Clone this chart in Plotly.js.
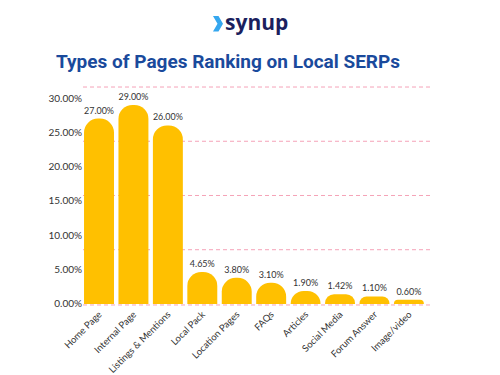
<!DOCTYPE html>
<html><head><meta charset="utf-8">
<script src="https://cdn.plot.ly/plotly-3.0.1.min.js"></script>
<style>html,body{margin:0;padding:0;background:#fff}#chart{width:500px;height:375px}</style>
</head><body><div id="chart"></div>
<script>
const categories = ["Home Page","Internal Page","Listings & Mentions","Local Pack","Location Pages","FAQs","Articles","Social Media","Forum Answer","Image/video"];
const shares = [27.00, 29.00, 26.00, 4.65, 3.80, 3.10, 1.90, 1.42, 1.10, 0.60];
const yTicks = [0, 5, 10, 15, 20, 25, 30];
const gridLevels = [-0.15, 7.9, 15.8, 23.7, 31.6];

const font = "Lato, 'Open Sans', sans-serif";
const trace = {
  type: 'bar', x: categories, y: shares,
  marker: {color: '#FFC000', cornerradius: 15},
  text: shares.map(v => v.toFixed(2) + '%'),
  texttemplate: '%{text}', textposition: 'outside', cliponaxis: false,
  textfont: {family: font, size: 9, color: '#333'},
  hoverinfo: 'skip'
};
const yRange = [-0.3, 31.75];
const gridShapes = gridLevels.map(v => ({type: 'line', xref: 'paper', yref: 'y', x0: 0, x1: 1, y0: v, y1: v,
  layer: 'below', line: {color: '#f5a3b8', width: 1, dash: '4px,3px'}}));
const layout = {
  width: 500, height: 375,
  margin: {l: 83, r: 67, t: 86, b: 69},
  paper_bgcolor: '#fff', plot_bgcolor: 'rgba(0,0,0,0)',
  showlegend: false, bargap: 0.13,
  title: {text: 'Types of Pages Ranking on Local SERPs', x: 0.456, xanchor: 'center', y: 0.837, yanchor: 'middle',
          font: {family: "Roboto, sans-serif", size: 19, color: '#1a4a9c', weight: 700}},
  xaxis: {range: [-0.465, 9.7], tickangle: -45, showgrid: false, zeroline: false, showline: false, ticks: '',
          tickfont: {family: font, size: 9.5, color: '#333'}, automargin: false},
  yaxis: {range: yRange, tickvals: yTicks, ticktext: yTicks.map(v => v.toFixed(2) + '%'),
          showgrid: false, zeroline: false, showline: false, ticks: '', ticklen: 0,
          tickfont: {family: font, size: 10, color: '#333'}, automargin: false},
  shapes: gridShapes.concat([{type: 'path', xref: 'paper', yref: 'paper', layer: 'above',
            path: 'M0.3714,1.318 L0.3871,1.318 L0.4,1.283 L0.3871,1.248 L0.3714,1.248 L0.3843,1.283 Z',
            fillcolor: '#35a7ef', line: {width: 0}}]),
  annotations: [{text: '<b>synup</b>', xref: 'paper', yref: 'paper', x: 0.4943, y: 1.292, xanchor: 'center', yanchor: 'middle',
                 showarrow: false, font: {family: "'Open Sans', sans-serif", size: 21, color: '#1b1f5e'}}]
};
Plotly.newPlot('chart', [trace], layout, {displayModeBar: false, staticPlot: true});
</script></body></html>
